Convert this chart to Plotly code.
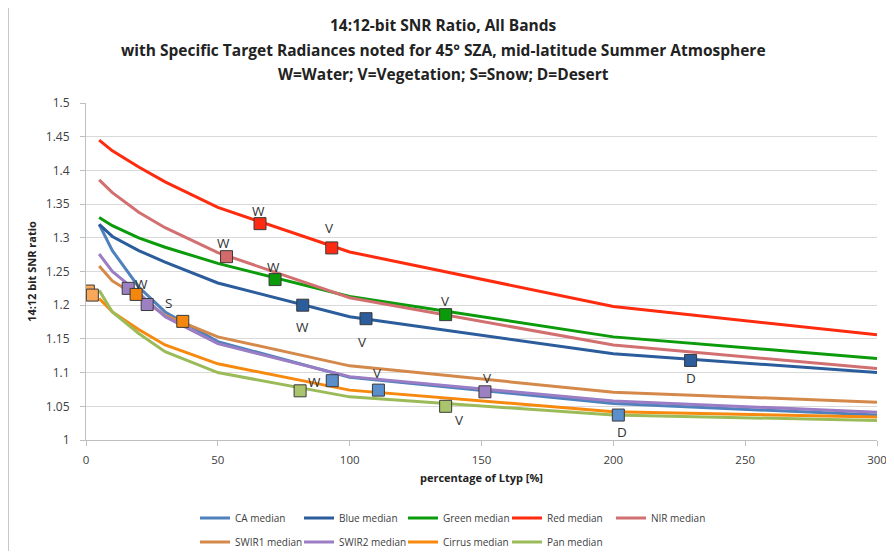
import plotly.graph_objects as go

# ---------------- data ----------------
x_pct = [5, 10, 20, 30, 50, 100, 200, 300]

series_names = ["CA median", "Blue median", "Green median", "Red median", "NIR median",
                "SWIR1 median", "SWIR2 median", "Cirrus median", "Pan median"]
ca_vals     = [1.320, 1.281, 1.227, 1.190, 1.146, 1.093, 1.054, 1.037]
blue_vals   = [1.320, 1.302, 1.281, 1.264, 1.233, 1.183, 1.128, 1.100]
green_vals  = [1.330, 1.318, 1.300, 1.286, 1.262, 1.213, 1.153, 1.121]
red_vals    = [1.445, 1.429, 1.405, 1.383, 1.345, 1.279, 1.198, 1.156]
nir_vals    = [1.386, 1.367, 1.338, 1.315, 1.278, 1.211, 1.141, 1.106]
swir1_vals  = [1.258, 1.236, 1.212, 1.185, 1.153, 1.110, 1.071, 1.056]
swir2_vals  = [1.276, 1.250, 1.218, 1.183, 1.143, 1.094, 1.058, 1.041]
cirrus_vals = [1.210, 1.190, 1.164, 1.141, 1.113, 1.074, 1.042, 1.034]
pan_vals    = [1.222, 1.190, 1.158, 1.131, 1.100, 1.064, 1.037, 1.029]
series_vals = [ca_vals, blue_vals, green_vals, red_vals, nir_vals,
               swir1_vals, swir2_vals, cirrus_vals, pan_vals]
series_colors = ["#4F81BD", "#2B5C9B", "#0B9B0B", "#FF2B0E", "#D27071",
                 "#D4894A", "#9A7DC4", "#F7890F", "#9BBB59"]

# specific target markers (x %, ratio)
marker_groups = [
    ("#FF2A12", [66.0, 93.2], [1.321, 1.285]),                   # red
    ("#D36A6A", [53.3], [1.272]),                                # NIR
    ("#0A9A0A", [71.7, 136.4], [1.238, 1.186]),                  # green
    ("#2B5C9B", [82.2, 106.2, 229.3], [1.200, 1.180, 1.118]),    # blue
    ("#5B8FCC", [93.4, 110.9, 201.9], [1.088, 1.074, 1.037]),    # CA
    ("#9D80C2", [16.0, 23.2, 151.3], [1.225, 1.201, 1.0715]),    # SWIR2
    ("#F5870F", [19.0, 36.7], [1.216, 1.176]),                   # SWIR1 / cirrus
    ("#F9A85A", [0.9, 2.4], [1.221, 1.215]),                     # light orange
    ("#A9C46C", [81.2, 136.4], [1.073, 1.050]),                  # pan
]

# target letters
label_text = ["W", "V", "W", "W", "W", "V", "V", "D", "W", "V", "V", "V", "D", "W", "S"]
label_x    = [65.6, 92.5, 52.1, 71.0, 82.2, 104.9, 136.4, 229.3, 86.8, 110.5, 152.2, 141.8, 203.1, 21.1, 31.2]
label_y    = [1.340, 1.314, 1.292, 1.257, 1.168, 1.146, 1.206, 1.092, 1.086, 1.099, 1.092, 1.030, 1.012, 1.232, 1.203]

x_ticks = [0, 50, 100, 150, 200, 250, 300]
y_ticks = [1.0, 1.05, 1.1, 1.15, 1.2, 1.25, 1.3, 1.35, 1.4, 1.45, 1.5]
y_tick_text = ["1", "1.05", "1.1", "1.15", "1.2", "1.25", "1.3", "1.35", "1.4", "1.45", "1.5"]

title_lines = ["14:12-bit SNR Ratio, All Bands",
               "with Specific Target Radiances noted for 45° SZA, mid-latitude Summer Atmosphere",
               "W=Water; V=Vegetation; S=Snow; D=Desert"]

FONT = "Open Sans, Noto Sans, sans-serif"
TXT = "#404040"

fig = go.Figure()
for i, (nm, vals, col) in enumerate(zip(series_names, series_vals, series_colors)):
    fig.add_trace(go.Scatter(
        x=x_pct, y=vals, mode="lines", name=nm,
        line=dict(color=col, width=3),
        legend="legend" if i < 5 else "legend2",
    ))

for col, mx, my in marker_groups:
    fig.add_trace(go.Scatter(
        x=mx, y=my, mode="markers", showlegend=False,
        marker=dict(symbol="square", size=12, color=col,
                    line=dict(color="#3A3A3A", width=1)),
    ))

for t, lx, ly in zip(label_text, label_x, label_y):
    fig.add_annotation(x=lx, y=ly, text=t, showarrow=False,
                       font=dict(family=FONT, size=13.5, color="#333333"))

# The page places the figure 8px in from the top-left (body margin),
# so the figure is laid out in reference pixels minus 8.
OFF = 8
W, H = 894 - 2 * OFF, 559 - 2 * OFF
L = 86 - OFF
R = W - (877 - OFF)
T = 103 - OFF
B = H - (440 - OFF)
pw, ph = W - L - R, H - T - B

def px2paper_x(px):
    return (px - OFF - L) / pw

def py2paper_y(py):
    return (H - B - (py - OFF)) / ph

title_py = [25, 50, 74]
for line, py in zip(title_lines, title_py):
    fig.add_annotation(xref="paper", yref="paper", x=px2paper_x(443), y=py2paper_y(py),
                       text="<b>" + line + "</b>", showarrow=False,
                       xanchor="center", yanchor="middle",
                       font=dict(family=FONT, size=15.5, color="#222222"))

# chart-area frame (right edge runs past the visible area)
fig.add_shape(type="rect", xref="paper", yref="paper",
              x0=px2paper_x(8), x1=px2paper_x(910), y0=py2paper_y(557), y1=py2paper_y(5),
              line=dict(color="#C8C8C8", width=2), layer="below")

leg_common = dict(orientation="h", xanchor="left", yanchor="middle",
                  entrywidth=59, entrywidthmode="pixels",
                  font=dict(family=FONT, size=10, color=TXT), bgcolor="rgba(0,0,0,0)",
                  itemwidth=30)

fig.update_layout(
    width=W, height=H,
    margin=dict(l=L, r=R, t=T, b=B, autoexpand=False),
    paper_bgcolor="white", plot_bgcolor="white",
    font=dict(family=FONT, size=12, color=TXT),
    xaxis=dict(range=[0, 300], tickvals=x_ticks, ticks="outside", ticklen=5,
               tickcolor="#BFBFBF", showline=True, linecolor="#BFBFBF", linewidth=1,
               showgrid=False, zeroline=False, automargin=False, ticklabelstandoff=4,
               ticklabeloverflow="allow",
               tickfont=dict(family=FONT, size=11.5, color=TXT),
               title=dict(text="<b>percentage of Ltyp [%]</b>", standoff=8,
                          font=dict(family=FONT, size=11, color="#222222"))),
    yaxis=dict(range=[1.0, 1.5], tickvals=y_ticks, ticktext=y_tick_text,
               ticks="outside", ticklen=5, tickcolor="#BFBFBF",
               showline=True, linecolor="#BFBFBF", linewidth=1, automargin=False,
               ticklabelstandoff=8, ticklabeloverflow="allow",
               showgrid=True, gridcolor="#D9D9D9", gridwidth=1, zeroline=False,
               tickfont=dict(family=FONT, size=12, color=TXT),
               title=dict(text="<b>14:12 bit SNR ratio</b>", standoff=6,
                          font=dict(family=FONT, size=11, color="#222222"))),
    legend=dict(x=px2paper_x(195), y=py2paper_y(518), **leg_common),
    legend2=dict(x=px2paper_x(195), y=py2paper_y(542), **leg_common),
)

fig.write_html("out.html")
